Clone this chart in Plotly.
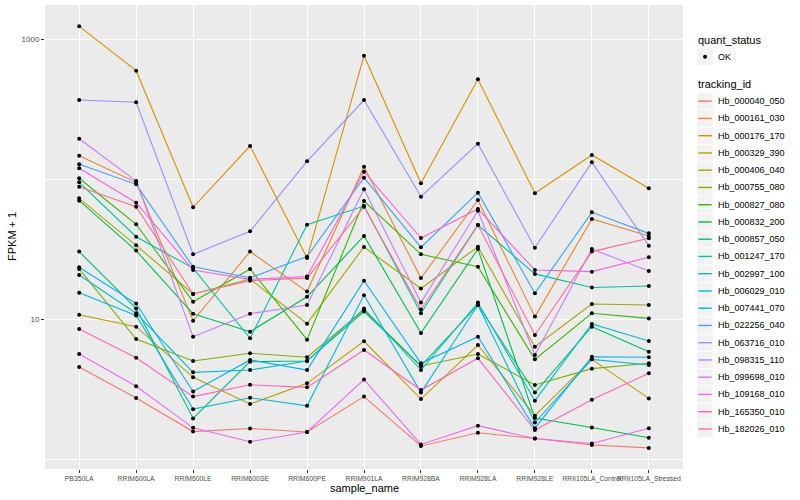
import plotly.graph_objects as go

samples = ["PB350LA", "RRIM600LA", "RRIM600LE", "RRIM600SE", "RRIM600PE", "RRIM901LA",
           "RRIM928BA", "RRIM928LA", "RRIM928LE", "RRII105LA_Control", "RRII105LA_Stressed"]

tracking_ids = ["Hb_000040_050", "Hb_000161_030", "Hb_000176_170", "Hb_000329_390", "Hb_000406_040",
                "Hb_000755_080", "Hb_000827_080", "Hb_000832_200", "Hb_000857_050", "Hb_001247_170",
                "Hb_002997_100", "Hb_006029_010", "Hb_007441_070", "Hb_022256_040", "Hb_063716_010",
                "Hb_098315_110", "Hb_099698_010", "Hb_109168_010", "Hb_165350_010", "Hb_182026_010"]

colors = ["#F8766D", "#EA8331", "#D89000", "#C09B00", "#A3A500", "#7CAE00", "#39B600", "#00BB4E",
          "#00BF7D", "#00C1A3", "#00BFC4", "#00BAE0", "#00B0F6", "#35A2FF", "#9590FF", "#C77CFF",
          "#E76BF3", "#FA62DB", "#FF62BC", "#FF6C91"]

quant_status = ["OK"]

# FPKM + 1 values per gene, in sample order
Hb_000040_050 = [4.54, 2.73, 1.57, 1.65, 1.56, 2.79, 1.24, 1.54, 1.40, 1.26, 1.20]
Hb_000161_030 = [146.7, 94.7, 9.72, 30.3, 15.7, 122.4, 19.6, 70.8, 10.4, 51.8, 39.2]
Hb_000176_170 = [1232, 594, 62.8, 172.1, 27.3, 760, 93.2, 515, 79.1, 148.4, 85.8]
Hb_000329_390 = [10.73, 8.81, 3.83, 2.47, 3.47, 6.93, 2.68, 6.52, 2.04, 5.15, 2.71]
Hb_000406_040 = [72.8, 33.6, 15.1, 19.3, 9.26, 32.7, 16.5, 32.8, 6.34, 12.8, 12.6]
Hb_000755_080 = [22.8, 7.20, 5.01, 5.69, 5.33, 11.6, 4.62, 5.62, 3.38, 4.42, 4.83]
Hb_000827_080 = [101.2, 47.5, 13.3, 22.8, 7.12, 69.6, 29.0, 23.6, 5.15, 11.0, 10.1]
Hb_000832_200 = [70.0, 30.8, 10.9, 8.12, 14.4, 39.2, 7.94, 31.6, 1.96, 1.68, 1.42]
Hb_000857_050 = [30.3, 11.9, 1.95, 4.96, 5.01, 11.3, 4.62, 12.6, 2.98, 8.81, 5.84]
Hb_001247_170 = [94.7, 38.7, 23.1, 7.28, 47.2, 64.1, 11.0, 46.9, 21.0, 16.8, 17.2]
Hb_002997_100 = [20.6, 11.0, 4.16, 4.32, 5.01, 11.9, 4.32, 13.1, 2.61, 9.21, 6.97]
Hb_006029_010 = [15.4, 10.6, 2.27, 2.74, 2.40, 14.8, 2.98, 12.6, 1.82, 5.15, 4.69]
Hb_007441_070 = [23.4, 12.9, 3.03, 5.10, 4.32, 18.8, 4.83, 7.48, 1.66, 5.38, 5.33]
Hb_022256_040 = [127.4, 91.6, 23.6, 19.7, 27.9, 102.2, 32.5, 79.9, 15.3, 57.8, 40.9]
Hb_063716_010 = [366.6, 353.1, 29.0, 42.3, 133.8, 366.6, 74.8, 178.7, 32.3, 131.6, 33.4]
Hb_098315_110 = [194.1, 96.8, 7.48, 10.9, 12.6, 84.4, 13.1, 59.4, 5.53, 31.6, 22.0]
Hb_099698_010 = [5.62, 3.31, 1.67, 1.33, 1.56, 3.69, 1.27, 1.73, 1.40, 1.29, 1.66]
Hb_109168_010 = [119.2, 67.7, 22.4, 19.2, 20.1, 112.7, 37.9, 61.1, 22.4, 21.8, 27.6]
Hb_165350_010 = [8.48, 5.29, 2.79, 3.39, 3.25, 6.01, 3.11, 5.24, 1.61, 2.65, 4.09]
Hb_182026_010 = [88.1, 63.4, 15.1, 18.8, 19.6, 63.4, 11.7, 46.9, 7.69, 30.3, 37.7]

series = [Hb_000040_050, Hb_000161_030, Hb_000176_170, Hb_000329_390, Hb_000406_040,
          Hb_000755_080, Hb_000827_080, Hb_000832_200, Hb_000857_050, Hb_001247_170,
          Hb_002997_100, Hb_006029_010, Hb_007441_070, Hb_022256_040, Hb_063716_010,
          Hb_098315_110, Hb_099698_010, Hb_109168_010, Hb_165350_010, Hb_182026_010]

# ---- layout geometry (pixels) ----
W, H = 800, 500
PL, PR, PT, PB = 45, 683, 5, 469


def fx(p):
    return (p - PL) / (PR - PL)


def fy(p):
    return (PB - p) / (PB - PT)


fig = go.Figure()
for tid, col, vals in zip(tracking_ids, colors, series):
    fig.add_trace(go.Scatter(x=samples, y=vals, mode="lines", name=tid,
                             line=dict(color=col, width=1.1), showlegend=False))

all_x, all_y = [], []
for vals in series:
    all_x += samples
    all_y += vals
fig.add_trace(go.Scatter(x=all_x, y=all_y, mode="markers", name=quant_status[0],
                         marker=dict(color="black", size=4), showlegend=False))

# ---- ggplot-style legend drawn as layout decorations ----
shapes, annotations = [], []
KX0, KX1 = 697.3, 712.7
annotations.append(dict(text="quant_status", x=fx(696), y=fy(40.5), xref="paper", yref="paper",
                        xanchor="left", yanchor="middle", showarrow=False, font=dict(size=11)))
shapes.append(dict(type="rect", xref="paper", yref="paper", x0=fx(KX0), x1=fx(KX1),
                   y0=fy(65.2), y1=fy(48.4), fillcolor="#F2F2F2", line=dict(width=0), layer="above"))
shapes.append(dict(type="circle", xref="paper", yref="paper", x0=fx(703.0), x1=fx(707.0),
                   y0=fy(58.8), y1=fy(54.8), fillcolor="black", line=dict(width=0), layer="above"))
annotations.append(dict(text=quant_status[0], x=fx(716), y=fy(56.8), xref="paper", yref="paper",
                        xanchor="left", yanchor="middle", showarrow=False, font=dict(size=9)))
annotations.append(dict(text="tracking_id", x=fx(696), y=fy(84), xref="paper", yref="paper",
                        xanchor="left", yanchor="middle", showarrow=False, font=dict(size=11)))
STEP = 17.25
for k, (tid, col) in enumerate(zip(tracking_ids, colors)):
    yc = 101.2 + STEP * k
    shapes.append(dict(type="rect", xref="paper", yref="paper", x0=fx(KX0), x1=fx(KX1),
                       y0=fy(yc + 8.2), y1=fy(yc - 8.2), fillcolor="#F2F2F2", line=dict(width=0),
                       layer="above"))
    shapes.append(dict(type="line", xref="paper", yref="paper", x0=fx(698.3), x1=fx(711.7),
                       y0=fy(yc), y1=fy(yc), line=dict(color=col, width=1.4), layer="above"))
    annotations.append(dict(text=tid, x=fx(716), y=fy(yc), xref="paper", yref="paper",
                            xanchor="left", yanchor="middle", showarrow=False, font=dict(size=9)))

# axis titles
annotations.append(dict(text="sample_name", xref="paper", yref="paper", x=0.5, y=fy(488),
                        showarrow=False, xanchor="center", yanchor="middle", font=dict(size=11)))
annotations.append(dict(text="FPKM + 1", xref="paper", yref="paper", x=fx(12), y=0.5, textangle=-90,
                        showarrow=False, xanchor="center", yanchor="middle", font=dict(size=11)))

fig.update_layout(
    width=W, height=H,
    margin=dict(l=PL, r=W - PR, t=PT, b=H - PB, autoexpand=False),
    paper_bgcolor="white", plot_bgcolor="#EBEBEB",
    font=dict(family="Liberation Sans, Arial, sans-serif", color="black"),
    showlegend=False,
    xaxis=dict(type="category", categoryorder="array", categoryarray=samples,
               range=[-0.6, 10.6], showgrid=True, gridcolor="white", gridwidth=1.1,
               ticks="outside", ticklen=3, tickcolor="#333333", tickangle=0,
               tickfont=dict(family="Liberation Sans, Arial, sans-serif", size=6.8, color="#4D4D4D"),
               zeroline=False, showline=False, automargin=False),
    yaxis=dict(type="log", range=[-0.0714, 3.243], tickvals=[10, 1000], ticktext=["10", "1000"],
               showgrid=True, gridcolor="white", gridwidth=1.1,
               ticks="outside", ticklen=3, tickcolor="#333333",
               tickfont=dict(family="Liberation Sans, Arial, sans-serif", size=8, color="#4D4D4D"),
               minor=dict(tickvals=[1, 100], showgrid=True, gridcolor="white", gridwidth=0.5, ticks=""),
               zeroline=False, showline=False, automargin=False),
    shapes=shapes,
    annotations=annotations,
)

fig.write_html("out.html", config={"displayModeBar": False},
               post_script="document.body.style.margin='0px';")
